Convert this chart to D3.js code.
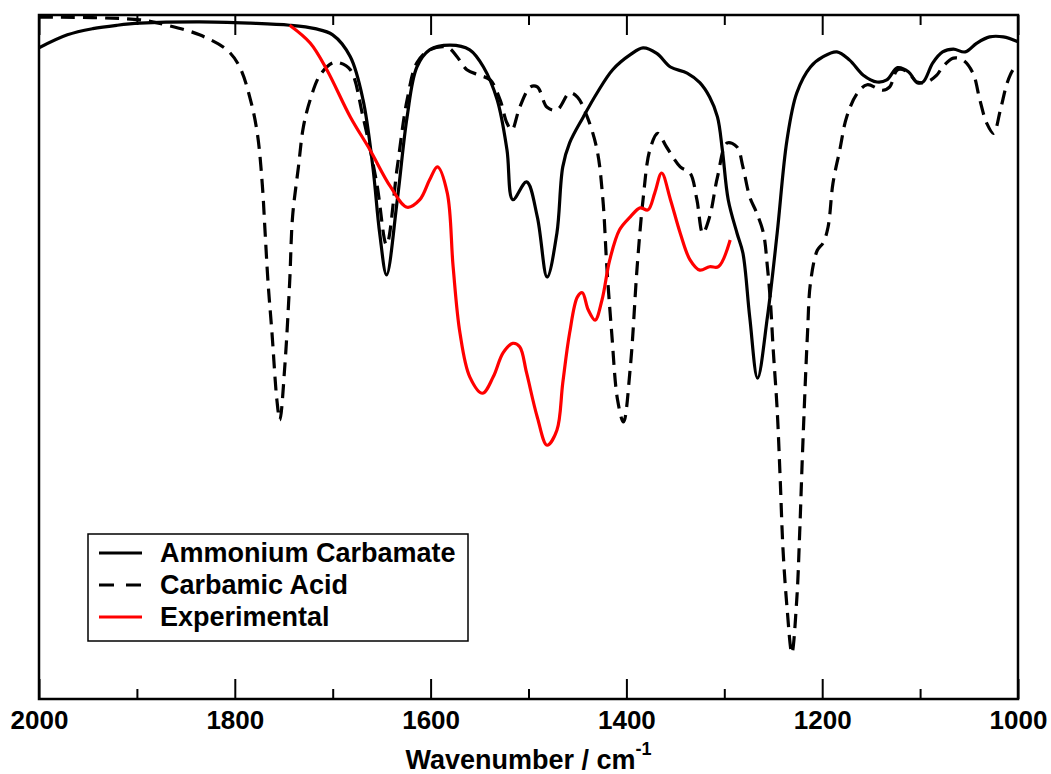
<!DOCTYPE html>
<html>
<head>
<meta charset="utf-8">
<script src="https://cdn.jsdelivr.net/npm/d3@7"></script>
<style>
  html, body { margin: 0; padding: 0; background: #fff; }
  svg { display: block; }
  text { font-family: "Liberation Sans", Arial, Helvetica, sans-serif; font-weight: bold; }
</style>
</head>
<body>
<svg id="chart" width="1051" height="774"></svg>
<script>
// ---- Data (relative transmittance, %) ----
const carbamateWn = [2000,1971,1945,1920,1897,1836,1784,1744,1718,1700,1682,1669,1659,1652,1645,1634,1624,1614,1601,1580,1560,1546,1532,1522,1516,1502,1491,1481,1471,1465,1458,1444,1430,1414,1396,1383,1369,1355,1338,1325,1315,1307,1302,1296,1287,1281,1274,1266,1256,1246,1236,1226,1212,1199,1185,1172,1158,1144,1134,1123,1112,1103,1097,1087,1077,1066,1054,1042,1029,1015,1000];
const carbamateT  = [95.2,97.1,98.0,98.5,98.8,99.0,98.8,98.5,98.0,97.1,93.9,87.6,77.8,68.1,62.0,73.0,85.1,92.4,94.9,95.6,94.9,92.4,87.6,80.3,73.0,75.6,70.5,61.7,68.1,77.8,81.3,85.1,88.6,92.0,94.2,95.2,94.4,92.4,91.5,90.1,88.0,85.1,80.3,73.0,68.1,65.2,55.8,46.9,55.8,68.1,81.7,88.6,92.4,93.9,94.6,93.4,91.2,90.2,90.5,92.3,91.7,90.1,90.2,93.0,94.6,95.0,94.6,95.9,96.8,96.8,96.1];

const acidWn = [2000,1897,1869,1836,1808,1795,1784,1777,1772,1769,1766,1762,1757,1754,1749,1744,1741,1735,1730,1723,1713,1700,1693,1682,1669,1655,1645,1634,1624,1614,1601,1583,1573,1563,1550,1539,1529,1522,1517,1509,1498,1491,1481,1471,1458,1450,1440,1430,1424,1420,1415,1409,1403,1396,1389,1383,1376,1368,1359,1345,1335,1328,1322,1315,1307,1297,1287,1281,1274,1267,1260,1256,1253,1250,1246,1243,1240,1236,1231,1226,1223,1220,1215,1212,1205,1199,1194,1189,1182,1175,1164,1154,1144,1138,1131,1123,1113,1103,1093,1083,1077,1066,1056,1046,1039,1032,1025,1018,1011,1005,1000];
const acidT  = [99.7,99.3,98.5,97.1,94.9,92.4,87.6,82.7,75.4,68.1,60.8,53.5,43.7,40.8,48.5,60.8,70.5,77.8,83.6,87.6,91.2,93.0,93.0,92.0,85.1,75.4,66.4,77.8,87.6,93.0,94.9,95.3,93.9,92.0,91.2,90.5,87.6,84.2,83.2,86.5,89.5,89.5,86.5,86.1,88.6,88.0,85.1,80.3,73.0,63.2,53.5,43.7,40.5,48.5,63.2,73.0,80.3,82.7,80.7,77.8,76.9,73.0,68.1,70.5,76.3,81.3,80.7,77.8,73.4,71.1,68.1,63.2,58.3,51.0,42.3,32.5,21.8,13.5,6.7,14.5,24.3,36.4,53.5,60.8,65.6,66.7,69.0,75.4,80.3,85.1,88.6,89.8,89.3,89.0,89.5,92.0,91.7,90.2,90.2,91.2,92.4,93.7,93.4,91.5,87.6,84.2,82.7,86.1,90.1,92.0,92.7];

const expWn = [1744,1723,1706,1682,1662,1641,1624,1611,1601,1593,1583,1577,1570,1560,1547,1536,1526,1516,1509,1502,1491,1481,1471,1465,1458,1450,1445,1439,1432,1425,1417,1407,1396,1386,1378,1371,1364,1355,1345,1335,1325,1315,1306,1294];
const expT  = [98.5,95.9,92.0,85.1,80.3,74.9,71.9,73.0,75.9,77.8,74.0,63.2,53.5,47.1,44.7,47.1,50.6,52.0,51.5,47.7,41.2,37.1,39.3,46.2,53.5,58.8,59.4,56.9,55.4,58.3,64.2,68.6,70.5,71.8,71.5,74.0,76.9,73.0,68.1,64.2,62.7,63.2,63.2,67.1];

const majorTicks = [2000,1800,1600,1400,1200,1000];
const minorTicks = [1900,1700,1500,1300,1100];
const seriesNames = ["Ammonium Carbamate","Carbamic Acid","Experimental"];
const xTitle = "Wavenumber / cm";
const xTitleSup = "-1";

// ---- Layout ----
const svg = d3.select("#chart");
const L = 39, R = 1018, T = 15, B = 699;
const x = d3.scaleLinear().domain([2000, 1000]).range([L, R]);
const y = d3.scaleLinear().domain([0, 100]).range([B, T]);

svg.append("defs").append("clipPath").attr("id","clip")
  .append("rect").attr("x",L).attr("y",T).attr("width",R-L).attr("height",B-T);

const line = d3.line().x(d => x(d[0])).y(d => y(d[1])).curve(d3.curveCatmullRom.alpha(0.5));
const zip = (a,b) => a.map((v,i)=>[v,b[i]]);

const series = [
  {name: seriesNames[0], data: zip(carbamateWn, carbamateT), color: "#000", dash: null},
  {name: seriesNames[1], data: zip(acidWn, acidT), color: "#000", dash: "14,8"},
  {name: seriesNames[2], data: zip(expWn, expT), color: "#ff0000", dash: null}
];

const g = svg.append("g").attr("clip-path","url(#clip)");
series.forEach(s => {
  g.append("path").datum(s.data)
    .attr("d", line)
    .attr("fill","none")
    .attr("stroke", s.color)
    .attr("stroke-width", 3.2)
    .attr("stroke-linejoin","round")
    .attr("stroke-dasharray", s.dash);
});

// ---- Axes ----
function styleAxis(sel){
  sel.select(".domain").remove();
  sel.selectAll(".tick line").attr("stroke","#000").attr("stroke-width",2);
}
const bottomMajor = svg.append("g").attr("transform",`translate(0,${B})`)
  .call(d3.axisBottom(x).tickValues(majorTicks).tickSize(-20).tickPadding(12).tickFormat(d3.format("d")));
styleAxis(bottomMajor);
bottomMajor.selectAll(".tick text").attr("font-size",26).attr("fill","#000")
  .style("font-family","'Liberation Sans', Arial, sans-serif").style("font-weight","bold");
const bottomMinor = svg.append("g").attr("transform",`translate(0,${B})`)
  .call(d3.axisBottom(x).tickValues(minorTicks).tickSize(-10).tickFormat(""));
styleAxis(bottomMinor);
const topMajor = svg.append("g").attr("transform",`translate(0,${T})`)
  .call(d3.axisTop(x).tickValues(majorTicks).tickSize(-20).tickFormat(""));
styleAxis(topMajor);
const topMinor = svg.append("g").attr("transform",`translate(0,${T})`)
  .call(d3.axisTop(x).tickValues(minorTicks).tickSize(-10).tickFormat(""));
styleAxis(topMinor);

// frame
svg.append("rect").attr("x",L).attr("y",T).attr("width",R-L).attr("height",B-T)
  .attr("fill","none").attr("stroke","#000").attr("stroke-width",2.5);

// axis title
const title = svg.append("text").attr("x",(L+R)/2).attr("y",769)
  .attr("text-anchor","middle").attr("font-size",27).attr("fill","#000");
title.append("tspan").text(xTitle);
title.append("tspan").attr("dy",-14).attr("font-size",18).text(xTitleSup);

// ---- Legend ----
const lg = svg.append("g");
lg.append("rect").attr("x",88).attr("y",534).attr("width",380).attr("height",107)
  .attr("fill","#fff").attr("stroke","#000").attr("stroke-width",1.5);
series.forEach((s,i) => {
  const yy = 553 + i*32;
  lg.append("line").attr("x1",99).attr("x2",142).attr("y1",yy).attr("y2",yy)
    .attr("stroke",s.color).attr("stroke-width",3).attr("stroke-dasharray", s.dash ? "15,12" : null);
  lg.append("text").attr("x",160).attr("y",yy+9).attr("font-size",27).attr("fill","#000").text(s.name);
});
</script>
</body>
</html>
